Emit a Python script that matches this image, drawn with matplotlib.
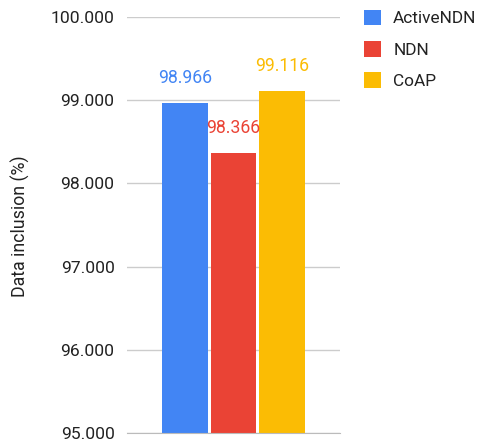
import matplotlib.pyplot as plt
from matplotlib.patches import Patch

series = ['ActiveNDN', 'NDN', 'CoAP']
values = [98.966, 98.366, 99.116]
colors = ['#4285F4', '#EA4335', '#FBBC04']
yticks = [95, 96, 97, 98, 99, 100]

plt.rcParams['font.family'] = ['Roboto', 'DejaVu Sans']

fig = plt.figure(figsize=(4.79, 4.41), dpi=100)
ax = fig.add_axes([127 / 479, 8 / 441, 213 / 479, 416 / 441])

xs = range(len(values))
ax.bar(xs, [v - 95 for v in values], bottom=95, width=0.94, color=colors, zorder=3)
for x, v, c in zip(xs, values, colors):
    ax.text(x, v + 0.3, '%.3f' % v, color=c, ha='center', va='center', fontsize=12.7)

ax.set_xlim(1 - 2.2, 1 + 2.2)
ax.set_ylim(95, 100)
ax.set_yticks(yticks)
ax.set_yticklabels(['%.3f' % t for t in yticks], fontsize=12.6, color='#222222')
ax.set_xticks([])
ax.tick_params(axis='y', length=0, pad=9)
ax.grid(axis='y', color='#cccccc', linewidth=1, zorder=0)
for s in ['top', 'right', 'left']:
    ax.spines[s].set_visible(False)
ax.spines['bottom'].set_color('#bbbbbb')
ax.spines['bottom'].set_zorder(4)
fig.text(20 / 479, 1 - 226 / 441, 'Data inclusion (%)', rotation=90, fontsize=12.8,
         color='#222222', ha='center', va='center')

handles = [Patch(facecolor=c, label=s) for s, c in zip(series, colors)]
fig.legend(handles=handles, loc='upper left', bbox_to_anchor=(357 / 479, 1 - 3 / 441),
           frameon=False, fontsize=12.4, handlelength=1.0, handleheight=1.0,
           labelspacing=0.85, handletextpad=0.7, borderaxespad=0, labelcolor='#222222')

fig.savefig('out.png', dpi=100)
